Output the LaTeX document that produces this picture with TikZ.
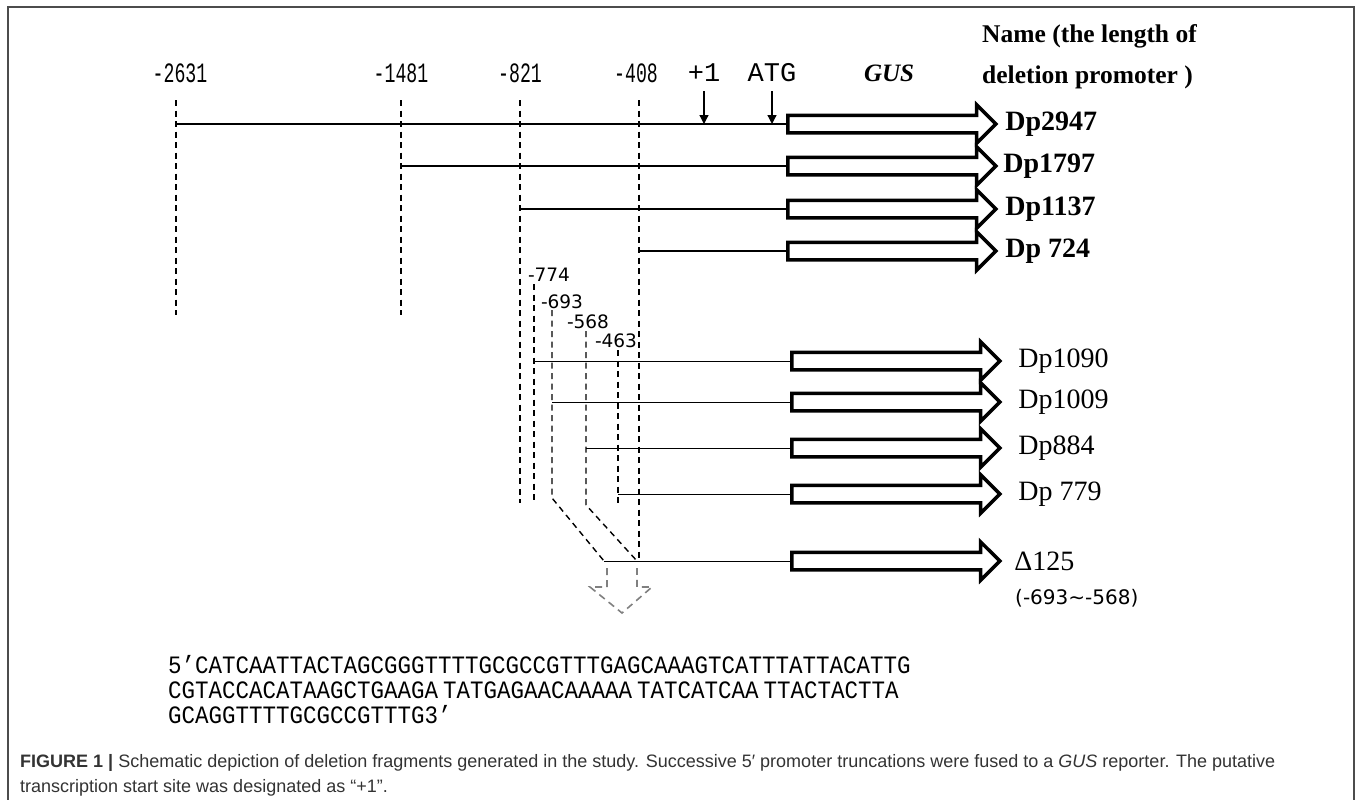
\documentclass[tikz,border=0pt]{standalone}
\usepackage{fontspec}
\setmainfont{Liberation Serif}
\setsansfont{Liberation Sans}
\newfontfamily\seqfont[FakeStretch=0.9]{Liberation Mono}
\newfontfamily\posfont[FakeStretch=0.65]{Liberation Mono}
\newfontfamily\atgfont{Liberation Mono}
\newfontfamily\labfont{DejaVu Sans}
\usetikzlibrary{arrows.meta,positioning,shapes.arrows}

\begin{document}
\begin{tikzpicture}[
  x=1pt, y=-1pt,
  gus/.style={single arrow, draw, line width=3.5pt, fill=white, inner xsep=0pt, inner ysep=7pt,
    minimum height=208pt, single arrow head extend=10.5pt, single arrow head indent=0pt, anchor=west},
  promo/.style={line width=1.3pt},
  guide/.style={line width=1.4pt, dash pattern=on 6pt off 4.5pt},
  hollow/.style={line width=1.6pt, gray, dash pattern=on 7pt off 5pt},
  tick/.style={line width=1.3pt, -{Triangle[length=9pt,width=9pt]}},
  poslab/.style={font=\posfont\fontsize{28}{28}\selectfont, inner sep=0pt},
  atg/.style={font=\atgfont\fontsize{27}{27}\selectfont, inner sep=0pt},
  sublab/.style={font=\labfont\fontsize{18.5}{18.5}\selectfont, inner sep=0pt},
  dpb/.style={font=\fontsize{28}{28}\selectfont\bfseries, inner sep=0pt},
  dp/.style={font=\fontsize{28}{28}\selectfont, inner sep=0pt},
  seq/.style={font=\seqfont\fontsize{25}{25}\selectfont, align=left, inner sep=0pt},
  captext/.style={font=\sffamily\fontsize{18}{25}\selectfont, align=left, inner sep=0pt, text=black!80},
]
\useasboundingbox (0,0) rectangle (1358,800);
\fill[white] (0,0) rectangle (1358,800);
\draw[line width=1.2pt, black!70] (8,7) rectangle (1354,840);

% upstream positions
\node[poslab] (n2631) at (180,73) {-2631};
\node[poslab] (n1481) at (401,73) {-1481};
\node[poslab] (n821) at (520,73) {-821};
\node[poslab] (n408) at (636,73) {-408};
\node[atg] (nplus) at (704,73) {+1};
\node[atg] (natg) at (772,73) {ATG};
\node[font=\fontsize{25}{25}\selectfont\bfseries\itshape, inner sep=0pt] (ngus) at (889,73) {GUS};
\node[font=\fontsize{25.5}{41}\selectfont\bfseries, align=left, anchor=north west, inner sep=0pt] (ntitle) at (982,24)
  {Name (the length of\\deletion promoter )};

\coordinate (g2631) at (176,100);
\coordinate (g1481) at (401,100);
\coordinate (g821) at (520,100);
\coordinate (g408) at (639,100);
\draw[guide] (g2631) -- ++(0,215);
\draw[guide] (g1481) -- ++(0,215);
\draw[guide] (g821) -- ++(0,403);
\draw[guide] (g408) -- ++(0,462);

% first series
\node[gus] (a2947) at (786,124) {};
\node[gus] (a1797) at (786,166) {};
\node[gus] (a1137) at (786,209) {};
\node[gus] (a724) at (786,251) {};
\node[dpb, right=7pt of a2947] {Dp2947};
\node[dpb, right=5pt of a1797] {Dp1797};
\node[dpb, right=7pt of a1137] {Dp1137};
\node[dpb, right=7pt of a724] {Dp 724};

\draw[promo] (g2631 |- a2947.west) -- (a2947.west);
\draw[promo] (g1481 |- a1797.west) -- (a1797.west);
\draw[promo] (g821 |- a1137.west) -- (a1137.west);
\draw[promo] (g408 |- a724.west) -- (a724.west);

\draw[tick] ([yshift=-9pt]nplus.south) -- (nplus.south |- a2947.west);
\draw[tick] ([yshift=-9pt]natg.south) -- (natg.south |- a2947.west);

% second series
\node[sublab] (n774) at (549,275) {-774};
\node[sublab] (n693) at (562,302) {-693};
\node[sublab] (n568) at (588,322) {-568};
\node[sublab] (n463) at (616,341) {-463};
\coordinate (g774) at (534,284);
\coordinate (g693) at (552,310);
\coordinate (g568) at (586,331);
\coordinate (g463) at (618,350);
\coordinate (cut) at (604,561);
\draw[guide] (g774) -- ++(0,219);
\draw[guide] (g693) -- ++(0,188) -- (cut);
\draw[guide] (g568) -- ++(0,174) -- (637,561);
\draw[guide] (g463) -- ++(0,155);

\node[gus] (a1090) at (790,361) {};
\node[gus] (a1009) at (790,402) {};
\node[gus] (a884) at (790,448) {};
\node[gus] (a779) at (790,494) {};
\node[gus] (a125) at (790,561) {};
\node[dp, right=16pt of a1090] {Dp1090};
\node[dp, right=16pt of a1009] {Dp1009};
\node[dp, right=16pt of a884] {Dp884};
\node[dp, right=16pt of a779] {Dp 779};
\node[dp, right=12pt of a125] (l125) {Δ125};
\node[font=\labfont\fontsize{20}{20}\selectfont, inner sep=0pt, anchor=west] at (1015,598) {(-693\textasciitilde-568)};

\draw[promo, line width=1pt] (g774 |- a1090.west) -- (a1090.west);
\draw[promo, line width=1pt] (g693 |- a1009.west) -- (a1009.west);
\draw[promo, line width=1pt] (g568 |- a884.west) -- (a884.west);
\draw[promo, line width=1pt] (g463 |- a779.west) -- (a779.west);
\draw[promo, line width=1pt] (cut) -- (a125.west);

% deleted region
\draw[hollow] (607,568) -- (607,587) -- (590,587) -- (622,613) -- (652,587) -- (637,587) -- (637,568);

\node[seq, anchor=north west] (nseq) at (168,655)
  {5’CATCAATTACTAGCGGGTTTTGCGCCGTTTGAGCAAAGTCATTTATTACATTG\\
   CGTACCACATAAGCTGAAGA\hspace{5pt}TATGAGAACAAAAA\hspace{5pt}TATCATCAA\hspace{5pt}TTACTACTTA\\
   GCAGGTTTTGCGCCGTTTG3’};

\node[captext, anchor=north west] (ncap) at (20,754)
  {\textbf{FIGURE 1 |} Schematic depiction of deletion fragments generated in the study. Successive 5′ promoter truncations were fused to a \textit{GUS} reporter. The putative\\
   transcription start site was designated as “+1”.};
\end{tikzpicture}
\end{document}
